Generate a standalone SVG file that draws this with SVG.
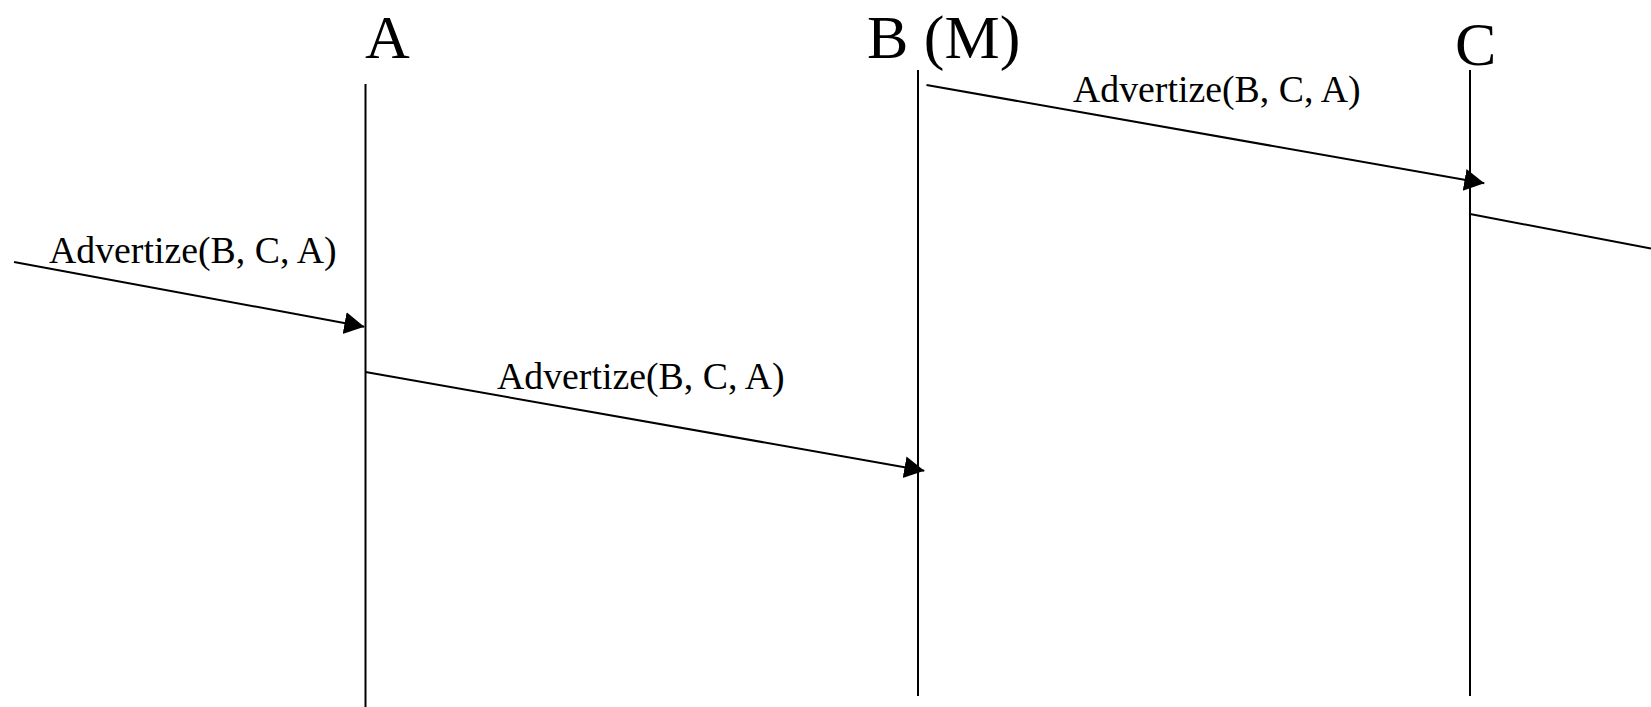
<svg xmlns="http://www.w3.org/2000/svg" width="1651" height="707" viewBox="0 0 1651 707">
  <style>
    .title { font-family: "Liberation Serif", "Times New Roman", serif; font-size: 62px; fill: #000; }
    .msg { font-family: "Liberation Serif", "Times New Roman", serif; font-size: 37.8px; fill: #000; }
    .life { stroke: #000; stroke-width: 2; fill: none; }
    .arrow { stroke: #000; stroke-width: 2; fill: none; }
  </style>
  <defs>
    <marker id="head" markerUnits="userSpaceOnUse" markerWidth="22" markerHeight="24" refX="20" refY="11" orient="auto">
      <path d="M0,0 L20,11 L0,22 Z" fill="#000"/>
    </marker>
  </defs>
  <rect width="1651" height="707" fill="#fff"/>

  <!-- participant A -->
  <g id="node-a">
    <text class="title" x="365" y="58">A</text>
    <line class="life" x1="365.5" y1="84" x2="365.5" y2="707"/>
  </g>

  <!-- participant B (M) -->
  <g id="node-b">
    <text class="title" x="867" y="58">B (M)</text>
    <line class="life" x1="918" y1="70" x2="918" y2="696"/>
  </g>

  <!-- participant C -->
  <g id="node-c">
    <text class="title" x="1455" y="65">C</text>
    <line class="life" x1="1470" y1="70" x2="1470" y2="696"/>
  </g>

  <!-- messages -->
  <g id="connectors">
    <line class="arrow" x1="14" y1="262" x2="364.3" y2="326.7" marker-end="url(#head)"/>
    <text class="msg" x="49" y="263">Advertize(B, C, A)</text>

    <line class="arrow" x1="365.5" y1="372" x2="924.3" y2="470.7" marker-end="url(#head)"/>
    <text class="msg" x="497" y="389">Advertize(B, C, A)</text>

    <line class="arrow" x1="926.5" y1="85" x2="1484.3" y2="183.3" marker-end="url(#head)"/>
    <text class="msg" x="1073" y="102">Advertize(B, C, A)</text>

    <line class="arrow" x1="1470" y1="214" x2="1651" y2="248.5"/>
  </g>
</svg>
